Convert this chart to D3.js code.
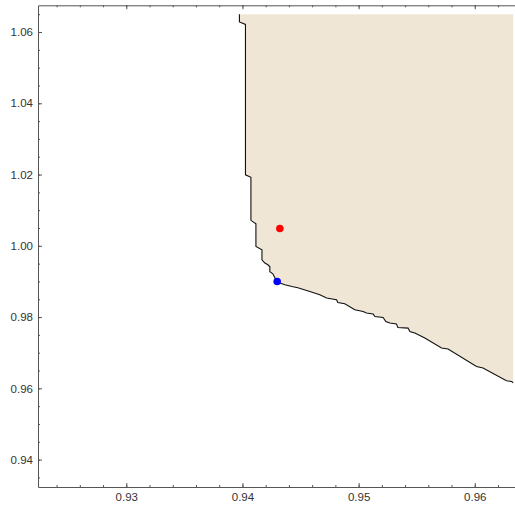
<!DOCTYPE html>
<html>
<head>
<meta charset="utf-8">
<script src="https://cdn.jsdelivr.net/npm/d3@7"></script>
<style>
  body { margin: 0; background: #fff; }
  svg { display: block; }
  .tick text { font-family: "Liberation Sans", Arial, sans-serif; font-size: 11.5px; fill: #333; }
</style>
</head>
<body>
<svg id="chart" width="515" height="510"></svg>
<script>
// boundary of the region (data units), traced top-left to bottom-right
const boundaryX = [0.93974, 0.93974, 0.94026, 0.94026, 0.94073, 0.94073, 0.94116, 0.94116,
  0.94168, 0.94168, 0.94193, 0.94219, 0.94236, 0.94236, 0.94262, 0.94288, 0.94322, 0.94365,
  0.94426, 0.94477, 0.94580, 0.94666, 0.94724, 0.94810, 0.94821, 0.94881, 0.94967, 0.95039,
  0.95068, 0.95125, 0.95140, 0.95211, 0.95234, 0.95269, 0.95326, 0.95338, 0.95426, 0.95441,
  0.95484, 0.95570, 0.95714, 0.95770, 0.96015, 0.96071, 0.96273, 0.96316, 0.96331];
const boundaryY = [1.06500, 1.06283, 1.06213, 1.01992, 1.01921, 1.00715, 1.00617, 0.99980,
  0.99888, 0.99607, 0.99515, 0.99467, 0.99411, 0.99271, 0.99215, 0.99046, 0.98954, 0.98906,
  0.98858, 0.98822, 0.98718, 0.98626, 0.98533, 0.98485, 0.98410, 0.98373, 0.98205, 0.98157,
  0.98112, 0.98084, 0.98017, 0.97989, 0.97877, 0.97832, 0.97804, 0.97708, 0.97691, 0.97596,
  0.97551, 0.97411, 0.97130, 0.97102, 0.96614, 0.96569, 0.96213, 0.96194, 0.96157];
const regionTop = 1.065;
const regionRight = 0.96331;

const pointsX = [0.94322, 0.94299];
const pointsY = [1.00485, 0.98999];
const pointColors = ['#ff0000', '#0000ff'];

const xMajor = [0.93, 0.94, 0.95, 0.96];
const yMajor = [0.94, 0.96, 0.98, 1.00, 1.02, 1.04, 1.06];
const xMinor = d3.range(0.924, 0.9635, 0.002);
const yMinor = d3.range(0.935, 1.067, 0.005);

const svg = d3.select('#chart');
const padLeft = 38, padRight = 514.5, padTop = 5.3, padBottom = 487;

const x = d3.scaleLinear().domain([0.9224, 0.96342]).range([padLeft, padRight]);
const y = d3.scaleLinear().domain([0.93231, 1.0675]).range([padBottom, padTop]);

// filled region
const poly = boundaryX.map((v, i) => [x(v), y(boundaryY[i])]);
poly.push([x(regionRight), y(regionTop)]);
svg.append('path')
  .attr('d', d3.line()(poly) + 'Z')
  .attr('fill', '#efe6d6');

// boundary curve
svg.append('path')
  .attr('d', d3.line()(boundaryX.map((v, i) => [x(v), y(boundaryY[i])])))
  .attr('fill', 'none')
  .attr('stroke', '#111')
  .attr('stroke-width', 1.1);

// points
svg.selectAll('circle.pt')
  .data(pointsX)
  .enter().append('circle')
  .attr('class', 'pt')
  .attr('cx', d => x(d))
  .attr('cy', (d, i) => y(pointsY[i]))
  .attr('r', 3.8)
  .attr('fill', (d, i) => pointColors[i]);

// frame axes
const fmt = d3.format('.2f');
function styleAxis(g) {
  g.selectAll('.domain').attr('stroke', '#555');
  g.selectAll('.tick line').attr('stroke', '#555');
}

svg.append('g')
  .attr('transform', `translate(0,${padBottom})`)
  .call(d3.axisBottom(x).tickValues(xMinor).tickSize(-2).tickFormat('').tickSizeOuter(0))
  .call(styleAxis);
svg.append('g')
  .attr('transform', `translate(0,${padBottom})`)
  .call(d3.axisBottom(x).tickValues(xMajor).tickSize(-4).tickPadding(6).tickFormat(fmt).tickSizeOuter(0))
  .call(styleAxis)
  .call(g => g.select('.domain').remove());

svg.append('g')
  .attr('transform', `translate(0,${padTop})`)
  .call(d3.axisTop(x).tickValues(xMinor).tickSize(-2).tickFormat('').tickSizeOuter(0))
  .call(styleAxis);
svg.append('g')
  .attr('transform', `translate(0,${padTop})`)
  .call(d3.axisTop(x).tickValues(xMajor).tickSize(-4).tickFormat('').tickSizeOuter(0))
  .call(styleAxis)
  .call(g => g.select('.domain').remove());

svg.append('g')
  .attr('transform', `translate(${padLeft},0)`)
  .call(d3.axisLeft(y).tickValues(yMinor).tickSize(-2).tickFormat('').tickSizeOuter(0))
  .call(styleAxis);
svg.append('g')
  .attr('transform', `translate(${padLeft},0)`)
  .call(d3.axisLeft(y).tickValues(yMajor).tickSize(-4).tickPadding(5).tickFormat(fmt).tickSizeOuter(0))
  .call(styleAxis)
  .call(g => g.select('.domain').remove());
</script>
</body>
</html>
